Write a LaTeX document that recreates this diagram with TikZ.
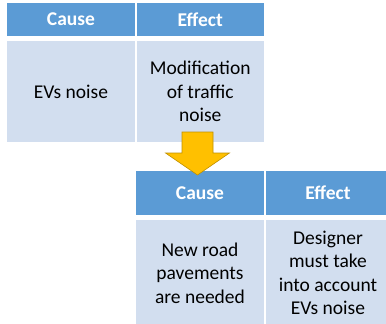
\documentclass[tikz,border=0pt]{standalone}
\usepackage{fontspec}
\setmainfont{Carlito}
\definecolor{hdr}{HTML}{5B9BD5}
\definecolor{bdy}{HTML}{D2DEEF}
\definecolor{arr}{HTML}{FFC000}
\definecolor{arrl}{HTML}{BF9000}
\begin{document}
\begin{tikzpicture}[x=1pt,y=-1pt,
  cell/.style={rectangle, inner sep=0pt, outer sep=0pt, align=center},
  hcell/.style={cell, fill=hdr, text=white, font=\bfseries\fontsize{19.5}{23.5}\selectfont},
  bcell/.style={cell, fill=bdy, text=black, font=\fontsize{19.5}{23.5}\selectfont},
  blockarrow/.style={fill=arr, draw=arrl, line width=0.6pt, line join=miter}]
\useasboundingbox (0,0) rectangle (386,324);
% top table
\node[hcell, minimum width=128pt, minimum height=33pt] (tc) at (71,19.5) {Cause};
\node[hcell, minimum width=126.5pt, minimum height=33pt] (te) at (200.25,19.5) {Effect};
\node[bcell, minimum width=128pt, minimum height=101pt] (tcb) at (71,91.5) {EVs noise};
\node[bcell, minimum width=126.5pt, minimum height=101pt] (teb) at (200.25,91.5) {Modification\\of traffic\\noise};
% bottom table
\node[hcell, minimum width=128pt, minimum height=44pt] (bc) at (200,193) {Cause};
\node[hcell, minimum width=124pt, minimum height=44pt] (be) at (328,193) {Effect};
\node[bcell, minimum width=128pt, minimum height=106pt] (bcb) at (200,273) {New road\\pavements\\are needed};
\node[bcell, minimum width=124pt, minimum height=106pt] (beb) at (328,273) {Designer\\must take\\into account\\EVs noise};
% block arrow
\draw[blockarrow] (182,132) -- (213,132) -- (213,153) -- (229.5,153) -- (197.5,175) -- (165.5,153) -- (182,153) -- cycle;
\end{tikzpicture}
\end{document}
